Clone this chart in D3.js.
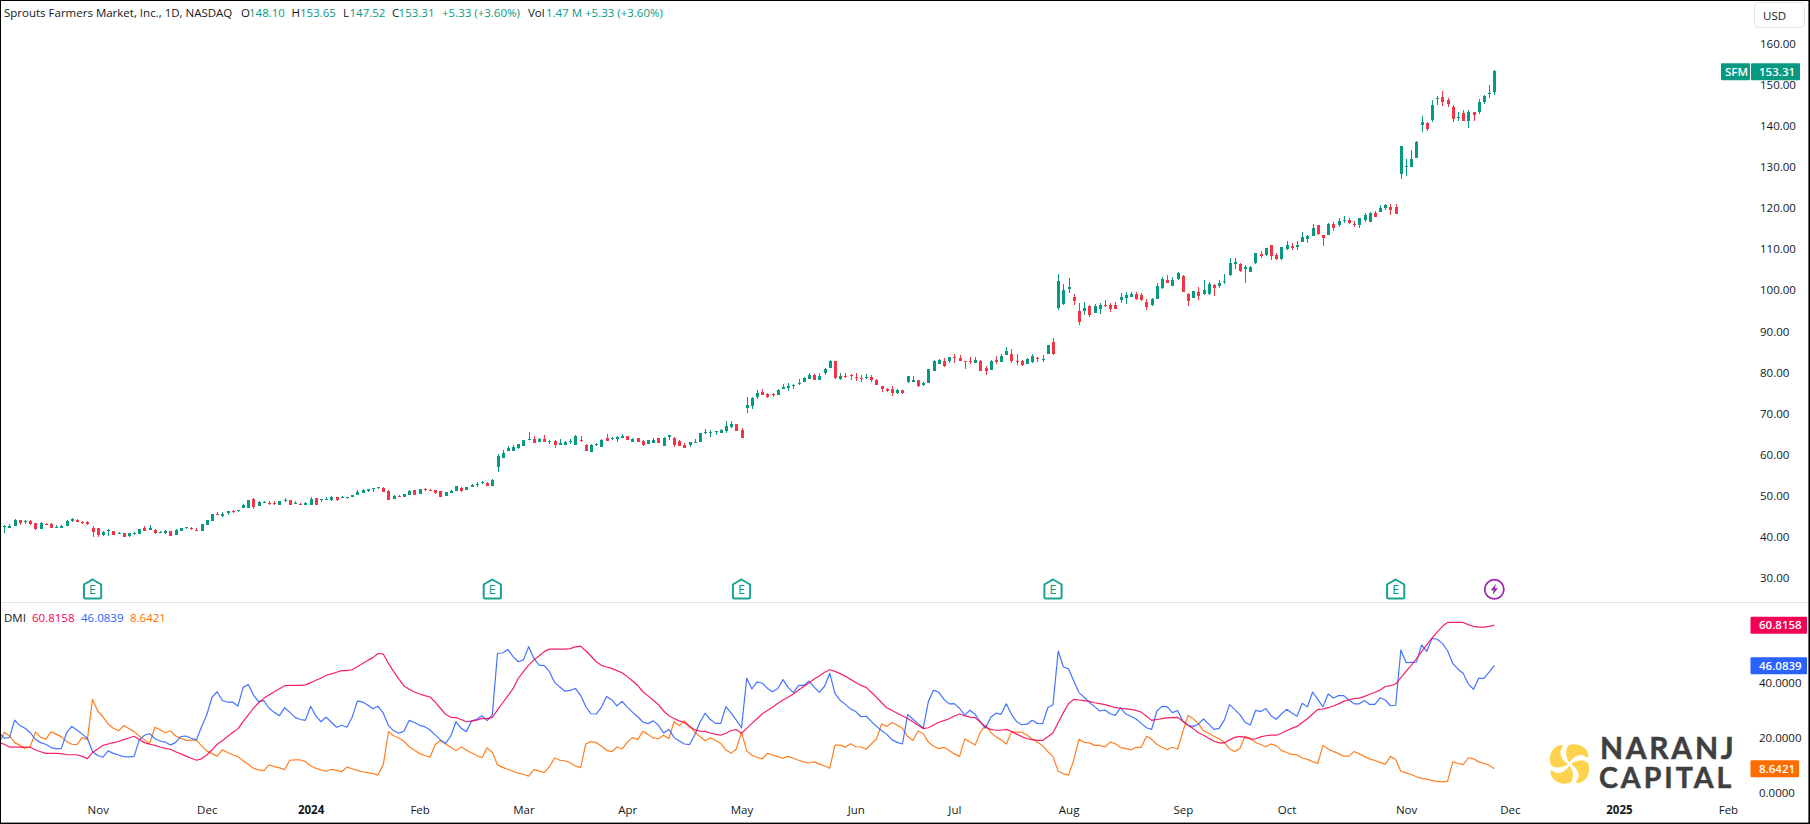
<!DOCTYPE html>
<html><head><meta charset="utf-8">
<style>html,body{margin:0;padding:0;background:#fff;overflow:hidden}
text{font-family:"Open Sans","Noto Sans",sans-serif;font-size:11.5px;fill:#131722}
.axis path,.axis line{display:none}
</style>
<script src="https://cdn.jsdelivr.net/npm/d3@7"></script></head>
<body><svg id="c" width="1810" height="824" xmlns="http://www.w3.org/2000/svg"></svg>
<script>
const openP=[42.2,42.0,42.5,43.9,43.4,43.7,43.2,41.7,43.0,42.9,
42.0,42.0,42.5,43.8,43.9,43.4,43.4,42.0,42.0,40.3,
41.2,41.2,40.5,40.8,40.0,40.5,40.5,42.0,41.5,41.5,
40.8,40.8,41.2,40.3,41.2,42.0,42.0,41.5,41.2,42.7,
43.7,45.4,44.9,45.6,46.1,46.1,46.8,46.8,49.0,47.3,
48.1,48.1,48.1,47.6,48.7,48.8,47.8,47.8,47.6,47.6,
49.3,48.8,48.8,48.8,49.5,49.3,49.3,49.5,50.0,50.5,
51.0,51.5,51.7,51.7,51.0,49.0,49.8,49.5,50.0,51.2,
50.3,51.5,51.2,51.2,51.0,49.8,50.5,51.0,51.7,51.2,
52.0,52.4,52.9,52.9,52.2,56.8,
59.0,60.7,60.7,61.5,61.9,63.4,63.7,62.9,63.7,62.9,
63.2,62.2,62.2,62.9,62.2,63.4,62.2,60.5,62.2,61.7,
63.9,63.7,63.7,63.9,64.4,62.9,63.9,63.2,62.4,62.7,
63.9,61.9,64.1,63.9,63.2,62.2,62.2,62.7,62.9,65.1,
65.1,65.4,65.1,65.6,66.6,67.3,65.9,71.2,71.7,73.9,
75.1,74.6,74.6,74.4,75.8,76.1,76.6,77.1,77.5,78.3,
79.2,78.0,79.7,81.0,82.7,78.3,79.0,79.2,78.8,78.5,
78.5,78.8,78.0,76.6,75.8,75.8,74.9,75.6,77.5,77.5,
78.0,76.8,77.3,80.2,81.9,82.7,82.7,83.6,83.4,82.7,
82.7,82.2,82.7,81.0,80.5,82.9,82.4,84.1,84.4,82.7,
82.7,81.9,82.4,83.4,82.9,84.4,87.3,
95.6,96.5,100.2,98.2,94.8,94.8,96.0,94.4,95.3,96.3,
96.3,96.3,97.5,98.0,98.2,99.0,98.7,97.0,96.3,97.8,
100.5,102.4,101.0,102.6,103.4,99.0,98.0,99.5,99.0,99.0,
101.2,101.0,101.9,103.6,106.3,106.3,105.1,104.3,106.5,108.7,
108.5,110.9,108.5,107.5,110.0,110.7,110.4,111.6,112.4,113.1,
115.8,113.4,113.4,116.0,115.8,116.8,117.0,116.0,115.8,117.0,
116.5,118.7,119.0,119.9,120.2,120.2,128.2,129.9,129.9,132.1,
140.2,140.6,141.4,146.5,147.0,146.2,144.5,141.9,143.1,141.1,
143.3,143.3,145.7,147.7,148.10];
const highP=[42.7,42.9,44.2,43.9,43.9,43.9,43.2,43.4,43.2,43.2,
42.7,42.7,43.9,44.4,44.2,43.7,43.7,42.5,42.0,41.2,
41.7,41.2,41.0,40.8,40.8,41.0,41.7,42.5,42.7,41.7,
41.2,41.5,41.2,41.7,42.0,42.2,42.2,42.0,42.9,43.9,
45.4,45.9,45.9,46.1,46.4,46.4,47.8,48.8,49.3,48.5,
48.5,48.5,48.5,48.5,49.3,48.8,48.5,48.1,48.3,49.5,
49.3,49.0,49.5,49.8,49.5,49.8,49.5,50.0,51.2,51.5,
51.5,51.7,52.0,52.0,51.2,50.0,50.0,50.3,51.2,51.2,
51.5,51.7,51.5,51.2,51.0,50.7,51.2,52.2,52.0,52.0,
52.7,53.2,53.4,53.2,53.9,60.0,
61.0,61.9,62.2,62.4,63.4,65.4,64.4,63.9,64.6,63.4,
63.4,63.7,63.2,63.7,64.6,64.4,62.4,62.4,62.7,63.7,
64.9,64.1,64.4,64.9,64.4,63.9,63.9,63.4,63.4,63.9,
63.9,64.1,64.6,64.1,63.4,62.7,62.9,63.7,65.1,66.1,
65.9,65.6,66.1,68.0,68.0,67.3,66.3,73.9,73.9,75.6,
75.8,74.9,74.9,75.8,77.1,77.3,77.1,78.3,78.8,79.7,
79.5,79.7,81.0,82.9,82.7,79.7,79.7,79.5,79.7,79.2,
79.5,79.2,78.3,76.6,76.1,76.6,75.8,75.6,79.0,79.0,
78.0,77.5,80.7,82.9,83.1,83.4,83.6,84.4,84.1,82.7,
83.6,83.6,82.9,81.4,82.9,83.9,84.4,86.1,85.6,84.4,
82.9,83.4,84.4,83.6,84.1,86.6,88.3,
103.8,101.4,102.9,99.0,96.8,97.0,96.3,96.5,96.8,97.5,
96.8,97.0,99.2,99.5,99.5,99.5,99.2,97.8,98.0,101.7,
103.1,103.6,103.1,104.3,103.6,99.2,99.7,100.7,102.4,101.9,
101.4,102.4,103.8,107.8,107.8,106.5,106.0,105.8,109.0,109.5,
110.2,110.9,109.0,110.4,111.9,111.4,111.9,114.1,113.4,116.0,
115.8,113.4,116.3,116.5,117.5,118.0,117.5,116.8,117.5,118.7,
119.0,119.2,120.7,120.9,120.9,120.9,135.0,131.9,134.1,136.2,
142.3,140.9,146.2,147.2,148.4,146.7,145.0,143.3,143.8,143.8,
143.3,146.5,147.5,149.9,153.65];
const lowP=[40.8,42.0,42.5,42.7,42.9,42.7,41.5,41.7,42.8,42.0,
42.0,42.0,42.5,43.4,43.4,42.9,42.7,39.8,39.8,40.0,
40.0,40.3,40.5,39.8,39.8,40.3,40.5,41.2,41.5,40.5,
40.8,40.5,40.0,40.3,41.2,41.7,41.5,41.2,41.2,42.7,
43.7,45.1,44.6,45.1,45.6,45.9,46.8,46.8,46.6,47.3,
48.1,47.6,47.6,47.6,48.3,47.6,47.8,47.6,47.6,47.6,
47.6,48.3,48.8,48.5,48.5,49.3,49.0,49.5,50.0,50.5,
50.7,50.7,51.5,50.7,48.8,49.0,49.5,49.5,50.0,50.0,
50.3,51.0,51.0,50.3,49.5,49.8,50.5,51.0,50.7,51.2,
52.0,52.0,52.7,52.2,52.2,55.6,
59.0,60.7,60.7,61.2,61.9,63.4,62.7,62.9,62.9,62.4,
61.5,62.2,62.2,62.4,62.2,62.9,60.7,60.5,61.9,61.7,
63.2,63.4,62.9,63.9,63.4,62.9,62.9,61.9,62.4,62.7,
62.7,61.9,63.4,61.7,61.9,61.5,61.7,62.7,62.9,64.9,
64.1,64.6,65.1,65.1,66.3,65.6,63.9,70.0,71.0,73.4,
74.4,73.7,73.9,74.4,75.8,75.4,75.8,76.8,77.5,78.3,
78.0,78.0,79.2,81.0,78.3,78.0,78.5,78.0,77.8,77.5,
78.3,77.5,76.8,75.1,75.1,74.1,74.6,74.6,77.3,77.5,
76.3,76.6,77.3,80.2,81.9,81.2,82.2,82.2,82.7,80.7,
81.9,82.2,80.2,79.2,80.5,81.9,82.4,84.1,82.2,81.7,
81.4,81.9,82.2,82.4,82.4,84.4,84.1,
95.1,96.3,99.2,96.3,91.4,93.9,93.4,94.4,94.1,95.8,
94.6,95.3,96.8,96.5,98.2,97.5,97.3,95.1,96.0,97.8,
100.2,101.7,101.0,102.4,99.5,96.0,98.0,97.5,98.7,98.7,
98.5,100.5,101.4,103.4,105.1,104.3,101.7,104.3,106.3,107.8,
108.2,107.3,107.3,107.3,109.7,109.7,109.7,111.6,111.4,113.1,
113.4,110.7,113.4,114.3,115.3,116.3,116.0,115.3,115.1,116.5,
116.5,117.7,119.0,119.4,118.2,118.5,127.0,127.7,129.9,132.1,
138.4,138.7,140.9,145.0,144.8,144.5,140.9,141.1,141.1,139.4,
141.1,142.8,145.3,146.7,147.52];
const closeP=[42.4,42.5,43.9,43.2,43.6,42.9,41.8,43.2,42.8,42.0,
42.2,42.5,43.7,44.1,43.4,43.3,42.9,41.0,40.3,41.0,
41.4,40.3,40.8,39.8,40.8,40.8,41.7,41.2,42.0,40.8,
41.0,41.2,40.0,41.5,42.0,42.2,41.7,41.2,42.9,43.9,
45.4,45.1,45.4,46.1,45.9,46.4,47.6,48.8,47.1,48.3,
48.3,47.9,47.9,48.5,48.9,47.6,48.1,47.6,48.1,49.0,
47.6,49.0,49.1,49.5,48.8,49.5,49.5,50.0,50.7,51.2,
51.5,51.7,52.0,50.7,48.8,49.8,49.5,50.3,51.0,50.0,
51.5,51.2,51.0,50.5,49.5,50.7,51.0,52.2,51.0,52.0,
52.4,52.7,53.2,52.2,53.7,59.5,
60.2,61.5,61.7,62.4,63.4,63.7,62.7,63.7,62.9,63.2,
62.2,62.7,62.9,63.2,64.4,63.2,60.7,62.2,62.4,63.4,
63.2,63.9,64.1,64.4,63.4,63.7,62.9,62.2,63.4,63.4,
62.7,63.9,64.6,62.2,61.9,61.5,62.9,62.9,65.1,65.4,
65.4,65.6,65.9,66.8,67.3,65.6,63.9,71.9,73.7,74.9,
74.4,73.9,74.4,75.6,76.3,76.6,76.8,77.3,78.5,79.2,
78.0,79.0,80.7,82.7,78.5,79.0,78.8,79.1,78.5,78.3,
78.8,78.0,76.8,75.8,75.4,74.9,75.6,74.9,79.0,78.0,
76.6,77.3,80.7,82.7,82.9,81.4,83.6,83.4,82.7,82.4,
82.4,82.9,80.2,80.2,82.7,82.4,83.9,85.1,82.7,82.4,
81.7,83.1,83.9,83.1,83.1,86.6,84.4,
102.1,100.0,100.7,97.3,92.2,95.6,93.9,96.0,96.3,96.0,
95.3,95.3,98.2,98.7,99.0,97.8,97.5,95.8,97.8,101.0,
102.6,101.7,102.4,104.1,99.5,97.3,99.7,98.5,100.0,101.4,
100.5,101.7,102.1,106.5,106.8,104.6,105.6,105.6,109.0,108.2,
110.2,108.2,107.5,110.4,110.9,110.2,110.9,112.9,113.1,115.1,
113.6,112.6,116.0,115.1,116.8,117.0,116.3,115.8,117.5,118.2,
118.7,117.7,119.9,120.7,119.4,118.5,135.0,130.2,131.9,136.0,
140.9,139.2,145.0,146.7,145.7,145.3,141.6,142.1,141.1,143.3,
142.6,145.7,147.2,148.0,153.31];

// DMI series: first value belongs to the bar just left of the visible window
const adx=[18.1,
17.5,16.5,16.5,16.5,16.5,16.4,15.4,14.8,14.2,14.2,
14.2,14.1,13.7,13.7,13.7,13.1,12.3,14.5,15.8,17.1,
17.6,18.1,18.5,19.2,19.8,20.4,19.2,18.1,17.5,17.1,
16.5,16.0,15.7,14.8,14.0,13.2,12.4,11.7,12.2,13.6,
15.4,17.5,18.8,20.3,21.8,23.1,25.7,28.2,30.6,32.6,
34.2,35.4,36.6,37.7,38.8,38.9,38.9,38.9,39.1,39.9,
40.8,41.5,42.6,43.1,43.7,44.3,44.3,44.6,45.7,46.9,
48.0,49.0,50.5,50.3,46.9,43.9,41.2,38.7,37.5,36.5,
35.8,35.2,34.7,32.8,30.6,28.4,27.3,27.2,26.5,25.7,
25.9,26.3,26.9,26.8,27.3,30.0,32.6,35.1,37.7,41.5,
43.9,46.3,48.1,49.6,51.2,52.1,52.1,52.1,52.1,52.3,
52.9,53.2,51.5,49.6,47.5,46.2,45.6,45.1,44.3,43.5,
42.1,40.5,38.9,36.6,35.1,33.5,31.9,29.6,27.9,26.9,
26.0,25.4,24.0,22.8,22.3,22.2,21.6,21.1,20.8,21.5,
22.5,22.8,21.5,23.3,25.1,26.8,28.6,29.8,31.0,32.4,
33.6,34.7,35.8,37.2,38.6,39.8,41.2,42.3,43.7,44.6,
44.0,43.2,42.2,41.1,40.0,38.9,38.2,36.4,34.6,32.6,
30.8,29.8,28.8,27.8,26.9,25.7,24.4,23.2,23.5,24.5,
25.5,26.1,26.8,27.8,28.5,27.8,27.4,27.2,25.5,23.8,
22.9,22.6,22.6,22.9,22.2,21.2,20.3,19.5,19.2,18.9,
18.9,20.2,21.6,25.4,29.0,32.3,33.8,33.6,33.4,33.1,
32.6,32.3,31.9,31.4,30.8,30.6,30.4,30.2,29.8,29.2,
27.7,26.2,26.5,26.8,27.1,27.2,27.3,25.9,24.4,23.2,
21.7,20.8,19.7,18.6,18.0,18.0,19.1,20.0,20.4,20.0,
19.4,19.5,20.2,20.6,20.8,20.8,21.5,22.5,23.3,24.0,
25.4,26.8,28.5,30.2,30.3,30.8,31.4,32.2,33.1,33.7,
34.1,34.3,34.9,35.7,36.4,37.2,38.5,38.8,39.4,41.7,
44.0,46.2,48.6,51.2,53.7,56.1,58.3,60.4,61.8,61.8,
61.8,61.8,61.0,60.4,60.1,60.1,60.4,60.8158];
const plusDI=[21.7,
19.7,20.0,26.3,24.3,23.3,21.7,19.3,18.1,17.5,16.3,
15.8,16.0,21.7,24.0,22.7,21.2,19.7,14.8,13.4,12.8,
15.1,14.2,13.6,13.0,12.9,13.1,19.1,20.8,21.4,19.5,
18.7,18.3,17.2,18.2,20.3,20.5,19.7,19.1,23.9,28.2,
34.6,36.6,33.4,32.8,32.8,31.4,38.2,39.2,35.4,33.0,
33.4,30.6,29.1,27.9,30.8,29.1,27.3,26.5,26.2,31.3,
27.8,25.7,27.4,25.5,23.7,24.4,23.7,27.3,33.2,32.9,
31.8,30.4,31.3,28.8,24.3,22.4,21.5,22.3,26.2,25.4,
24.4,23.9,22.7,20.9,19.1,17.8,20.5,25.7,23.3,22.1,
26.0,26.6,27.9,26.1,28.2,50.6,50.7,52.0,49.4,47.5,
48.2,53.0,48.8,46.3,46.1,43.9,40.0,38.3,36.8,37.1,
37.8,35.3,31.2,28.6,28.5,30.9,34.9,33.7,31.5,33.1,
31.0,29.2,27.5,25.6,25.0,26.0,24.4,21.6,22.9,20.0,
18.7,17.6,17.4,20.9,25.5,28.8,26.5,25.1,25.1,31.2,
28.8,26.3,23.5,41.5,37.6,40.2,39.7,37.8,36.6,37.8,
41.0,38.1,36.3,38.9,38.9,40.5,38.3,36.4,38.6,43.3,
36.0,33.5,32.0,30.3,29.4,27.5,27.7,25.8,24.0,22.4,
21.1,19.1,18.2,17.6,28.3,26.7,25.0,23.4,33.1,37.2,
36.4,33.8,32.2,32.3,30.6,28.0,29.9,28.4,25.7,23.3,
27.3,28.8,28.4,32.2,28.4,25.7,24.6,24.8,26.2,25.1,
25.0,30.8,31.9,51.4,45.6,44.9,40.5,36.3,34.6,32.8,
31.2,29.6,30.0,28.6,28.0,30.8,28.5,27.7,26.7,25.1,
23.5,22.9,29.6,31.3,31.1,29.0,29.8,26.0,24.4,24.0,
24.8,26.7,24.8,22.9,23.3,26.3,31.9,30.2,28.3,25.5,
24.5,29.8,29.4,30.5,27.9,26.6,28.5,30.2,28.9,27.7,
32.4,31.1,36.5,33.8,31.1,35.8,34.3,35.2,35.2,33.6,
32.2,32.2,33.4,32.0,32.0,34.4,33.6,31.5,31.7,51.8,
47.2,47.3,47.4,53.6,51.3,56.0,55.7,54.2,51.5,46.9,
44.8,43.3,39.4,37.5,41.5,41.5,43.7,46.0839];
const minusDI=[17.8,
21.9,20.5,18.1,17.1,16.0,16.6,22.0,20.0,19.4,22.0,
21.2,20.2,18.5,17.5,17.4,19.9,19.3,33.8,29.6,27.5,
24.9,23.3,22.4,24.3,23.2,22.1,20.5,19.1,17.7,23.7,
22.8,21.7,22.4,20.5,19.7,18.9,18.9,19.1,16.9,15.1,
14.1,13.2,15.5,14.5,13.7,13.0,11.5,10.2,8.8,8.2,
7.9,10.0,9.4,8.9,8.3,11.7,11.8,11.8,11.2,9.7,
8.8,8.2,7.7,8.4,8.0,7.5,9.2,8.6,8.0,7.5,
7.2,6.8,6.3,10.1,22.1,20.6,19.8,18.5,16.6,15.3,
14.1,13.4,12.8,17.4,18.9,17.6,16.4,15.1,16.5,15.4,
14.3,13.4,12.6,16.2,14.6,10.0,9.1,8.4,7.7,7.0,
6.6,5.9,8.3,7.8,7.2,9.4,12.5,11.7,11.5,10.8,
9.6,9.0,17.6,18.5,18.1,16.9,15.3,14.8,16.5,15.8,
18.2,19.9,19.2,22.2,21.1,19.8,19.5,20.8,19.5,25.7,
24.3,26.0,24.0,21.9,20.3,18.8,19.9,18.9,17.8,15.5,
14.2,15.8,21.9,15.1,13.5,12.8,12.2,14.2,13.6,13.0,
12.4,13.1,12.4,11.7,11.1,10.7,11.1,10.3,9.6,8.8,
17.2,17.2,16.4,17.7,16.6,16.5,15.7,17.6,19.5,24.9,
24.0,25.4,24.4,23.3,20.3,18.9,22.3,21.4,18.3,16.8,
15.9,16.4,15.2,14.0,13.1,19.4,18.3,17.2,21.9,24.4,
21.9,20.2,19.1,17.6,21.9,21.9,21.9,20.9,19.3,18.3,
17.0,14.8,13.0,7.7,6.8,6.3,11.8,19.3,18.2,18.0,
17.1,17.1,16.5,18.3,17.7,16.3,15.9,15.5,16.4,16.4,
20.4,19.3,17.5,16.4,15.5,16.4,15.7,22.0,28.0,26.8,
25.0,22.4,21.4,20.4,19.5,18.2,15.9,14.9,16.0,20.4,
19.7,18.2,17.4,16.6,17.6,17.0,15.3,14.5,13.8,13.7,
12.5,12.0,11.2,10.5,17.1,15.8,14.9,14.1,13.2,13.2,
14.9,14.0,13.0,12.2,11.6,10.9,10.2,13.1,12.0,7.7,
7.1,6.5,5.7,5.1,4.8,4.3,4.0,3.8,4.0,11.1,
10.6,10.1,12.6,12.2,11.1,10.6,9.9,8.6421];

const priceTicks=[30,40,50,60,70,80,90,100,110,120,130,140,150,160];
const dmiTicks=[0,20,40];
const timeLabels=["Nov","Dec","2024","Feb","Mar","Apr","May","Jun","Jul","Aug","Sep","Oct","Nov","Dec","2025","Feb"];
const timeBars=[18,39,59,80,100,120,142,164,183,205,227,247,270,290,311,332];
const earningsBars=[17,94,142,202,268];
const dividendBar=287;

const GREEN="#089981",RED="#F23645",C_ADX="#F50057",C_PLUS="#2962FF",C_MINUS="#FF6D00",INK="#131722";
const svg=d3.select("#c");
svg.append("rect").attr("width",1810).attr("height",824).attr("fill","#fff");

const x=d3.scaleLinear().domain([0,287]).range([4.3,1494.3]);
const yP=d3.scaleLinear().domain([30,160]).range([577.15,43.5]);
const yPAxis=d3.scaleLinear().domain([30,160]).range([578.2,43.5]);
const yD=d3.scaleLinear().domain([0,40]).range([792.4,682.4]);

// pane separator
svg.append("rect").attr("x",0).attr("y",602).attr("width",1810).attr("height",1).attr("fill","#E0E3EB");

// DMI lines
const plot=svg.append("g");
plot.append("clipPath").attr("id","cp").append("rect").attr("x",1).attr("y",603).attr("width",1745).attr("height",200);
const line=d3.line().x((d,i)=>x(i-1)).y(d=>yD(d));
[[minusDI,C_MINUS],[plusDI,C_PLUS],[adx,C_ADX]].forEach(([s,c])=>{
  plot.append("path").datum(s).attr("clip-path","url(#cp)").attr("fill","none").attr("stroke",c)
    .attr("stroke-width",1.2).attr("stroke-linejoin","round").attr("stroke-opacity",.88).attr("d",line);
});

// candles
const candles=svg.append("g").attr("shape-rendering","crispEdges");
const idx=d3.range(closeP.length);
const col=i=>closeP[i]>=openP[i]?GREEN:RED;
candles.selectAll(".w").data(idx).join("rect").attr("class","w")
  .attr("x",i=>Math.round(x(i))).attr("width",1)
  .attr("y",i=>Math.round(yP(highP[i]))).attr("height",i=>Math.max(1,Math.round(yP(lowP[i]))-Math.round(yP(highP[i]))))
  .attr("fill",col);
candles.selectAll(".b").data(idx).join("rect").attr("class","b")
  .attr("x",i=>Math.round(x(i))-1).attr("width",3)
  .attr("y",i=>Math.round(yP(Math.max(openP[i],closeP[i]))))
  .attr("height",i=>Math.max(1,Math.round(yP(Math.min(openP[i],closeP[i])))-Math.round(yP(Math.max(openP[i],closeP[i])))))
  .attr("fill",col);

// axes
const gP=svg.append("g").attr("class","axis").attr("transform","translate(1750,0)")
  .call(d3.axisRight(yPAxis).tickValues(priceTicks).tickFormat(d3.format(".2f")).tickSize(0).tickPadding(10));
const gD=svg.append("g").attr("class","axis").attr("transform","translate(1749,0)")
  .call(d3.axisRight(yD).tickValues(dmiTicks).tickFormat(d3.format(".4f")).tickSize(0).tickPadding(10));
const gT=svg.append("g").attr("class","axis").attr("transform","translate(0,803)")
  .call(d3.axisBottom(x).tickValues(timeBars).tickFormat((d,i)=>timeLabels[i]).tickSize(0).tickPadding(3));
svg.selectAll(".axis text").attr("fill",INK).style("font-size","11.5px").style("font-family",'"Open Sans"');
gT.selectAll("text").filter((d,i)=>/^20/.test(timeLabels[i])).style("font-weight",700);

// earnings markers
const E=svg.append("g").selectAll("g").data(earningsBars).join("g")
  .attr("transform",d=>`translate(${x(d)},589)`);
E.append("path").attr("d","M0,-9.5 L8.6,-4.5 L8.6,8 Q8.6,9.5 7,9.5 L-7,9.5 Q-8.6,9.5 -8.6,8 L-8.6,-4.5 Z")
  .attr("fill","#fff").attr("stroke","#1BA392").attr("stroke-width",2);
E.append("text").attr("text-anchor","middle").attr("y",5.3).text("E").style("font-size","12.5px").style("fill","#089981");

// lightning marker
const L=svg.append("g").attr("transform",`translate(${x(dividendBar)},589.3)`);
L.append("circle").attr("r",9.6).attr("fill","#fff").attr("stroke","#9C27B0").attr("stroke-width",1.8);
L.append("path").attr("d","M1.6,-5.5 L-3.6,1 L-0.6,1 L-1.6,5.5 L3.6,-1 L0.6,-1 Z").attr("fill","#9C27B0");

// header legend
const last=closeP.length-1;
const head=[[4,"Sprouts Farmers Market, Inc., 1D, NASDAQ",INK],[241,"O",INK],[249,openP[last].toFixed(2),GREEN],
 [291.5,"H",INK],[300,highP[last].toFixed(2),GREEN],[343,"L",INK],[349.5,lowP[last].toFixed(2),GREEN],
 [392,"C",INK],[398.6,closeP[last].toFixed(2),GREEN],[442,"+5.33 (+3.60%)",GREEN],[528,"Vol",INK],
 [546,"1.47 M",GREEN],[585,"+5.33 (+3.60%)",GREEN]];
svg.append("g").selectAll("text").data(head).join("text").attr("x",d=>d[0]).attr("y",16.5).text(d=>d[1]).style("fill",d=>d[2]);

// DMI legend
const dl=[[4,"DMI",INK],[32,adx[adx.length-1].toFixed(4),C_ADX],[81,plusDI[plusDI.length-1].toFixed(4),C_PLUS],[130,minusDI[minusDI.length-1].toFixed(4),C_MINUS]];
svg.append("g").selectAll("text").data(dl).join("text").attr("x",d=>d[0]).attr("y",621.5).text(d=>d[1]).style("fill",d=>d[2]);

// USD box
svg.append("rect").attr("x",1754.5).attr("y",2.5).attr("width",50).attr("height",25).attr("rx",4).attr("fill","#fff").attr("stroke","#E0E3EB");
svg.append("text").attr("x",1763).attr("y",20).text("USD");

// value tags
function tag(x0,w,yc,h,fill,txt,tx){
  svg.append("rect").attr("x",x0).attr("y",yc-h/2).attr("width",w).attr("height",h).attr("rx",1).attr("fill",fill);
  svg.append("text").attr("x",tx).attr("y",yc+4).text(txt).style("fill","#fff").style("font-weight",600);
}
tag(1721,29,yP(closeP[last])+.7,17,GREEN,"SFM",1725);
tag(1751,49,yP(closeP[last])+.7,17,GREEN,closeP[last].toFixed(2),1759);
tag(1750.5,56.5,yD(adx[adx.length-1]),17,C_ADX,adx[adx.length-1].toFixed(4),1759);
tag(1750.5,56.5,yD(plusDI[plusDI.length-1]),17,C_PLUS,plusDI[plusDI.length-1].toFixed(4),1759);
tag(1750.5,48.5,yD(minusDI[minusDI.length-1]),17,C_MINUS,minusDI[minusDI.length-1].toFixed(4),1759);

// logo
const logo=svg.append("g").attr("transform","translate(1569.5,764)");
[0,90,180,270].forEach(a=>logo.append("path").attr("transform",`rotate(${a})`)
  .attr("d","M0,-1.5 C-3.5,-6 -5,-13 -1.5,-18 C3,-21.5 18,-20 19,-8 C19,-6.5 17.5,-6 16,-7.5 C11,-11 5,-8.5 0,-1.5 Z")
  .attr("fill","#FFD24D"));
svg.append("text").attr("x",1600).attr("y",759).text("NARANJ").style("font-family","Lato").style("font-weight",700).style("font-size","30px").style("letter-spacing","2.7px").style("fill","#3F3F3F").style("stroke","#3F3F3F").style("stroke-width",.5);
svg.append("text").attr("x",1599).attr("y",788).text("CAPITAL").style("font-family","Lato").style("font-weight",700).style("font-size","28.5px").style("letter-spacing","3px").style("fill","#3F3F3F").style("stroke","#3F3F3F").style("stroke-width",.5);

// frame
[[0,0,1810,1],[0,0,1,824],[0,822.6,1810,1.4],[1808.4,0,1.6,824]].forEach(r=>
  svg.append("rect").attr("x",r[0]).attr("y",r[1]).attr("width",r[2]).attr("height",r[3]).attr("fill","#000"));
</script></body></html>
